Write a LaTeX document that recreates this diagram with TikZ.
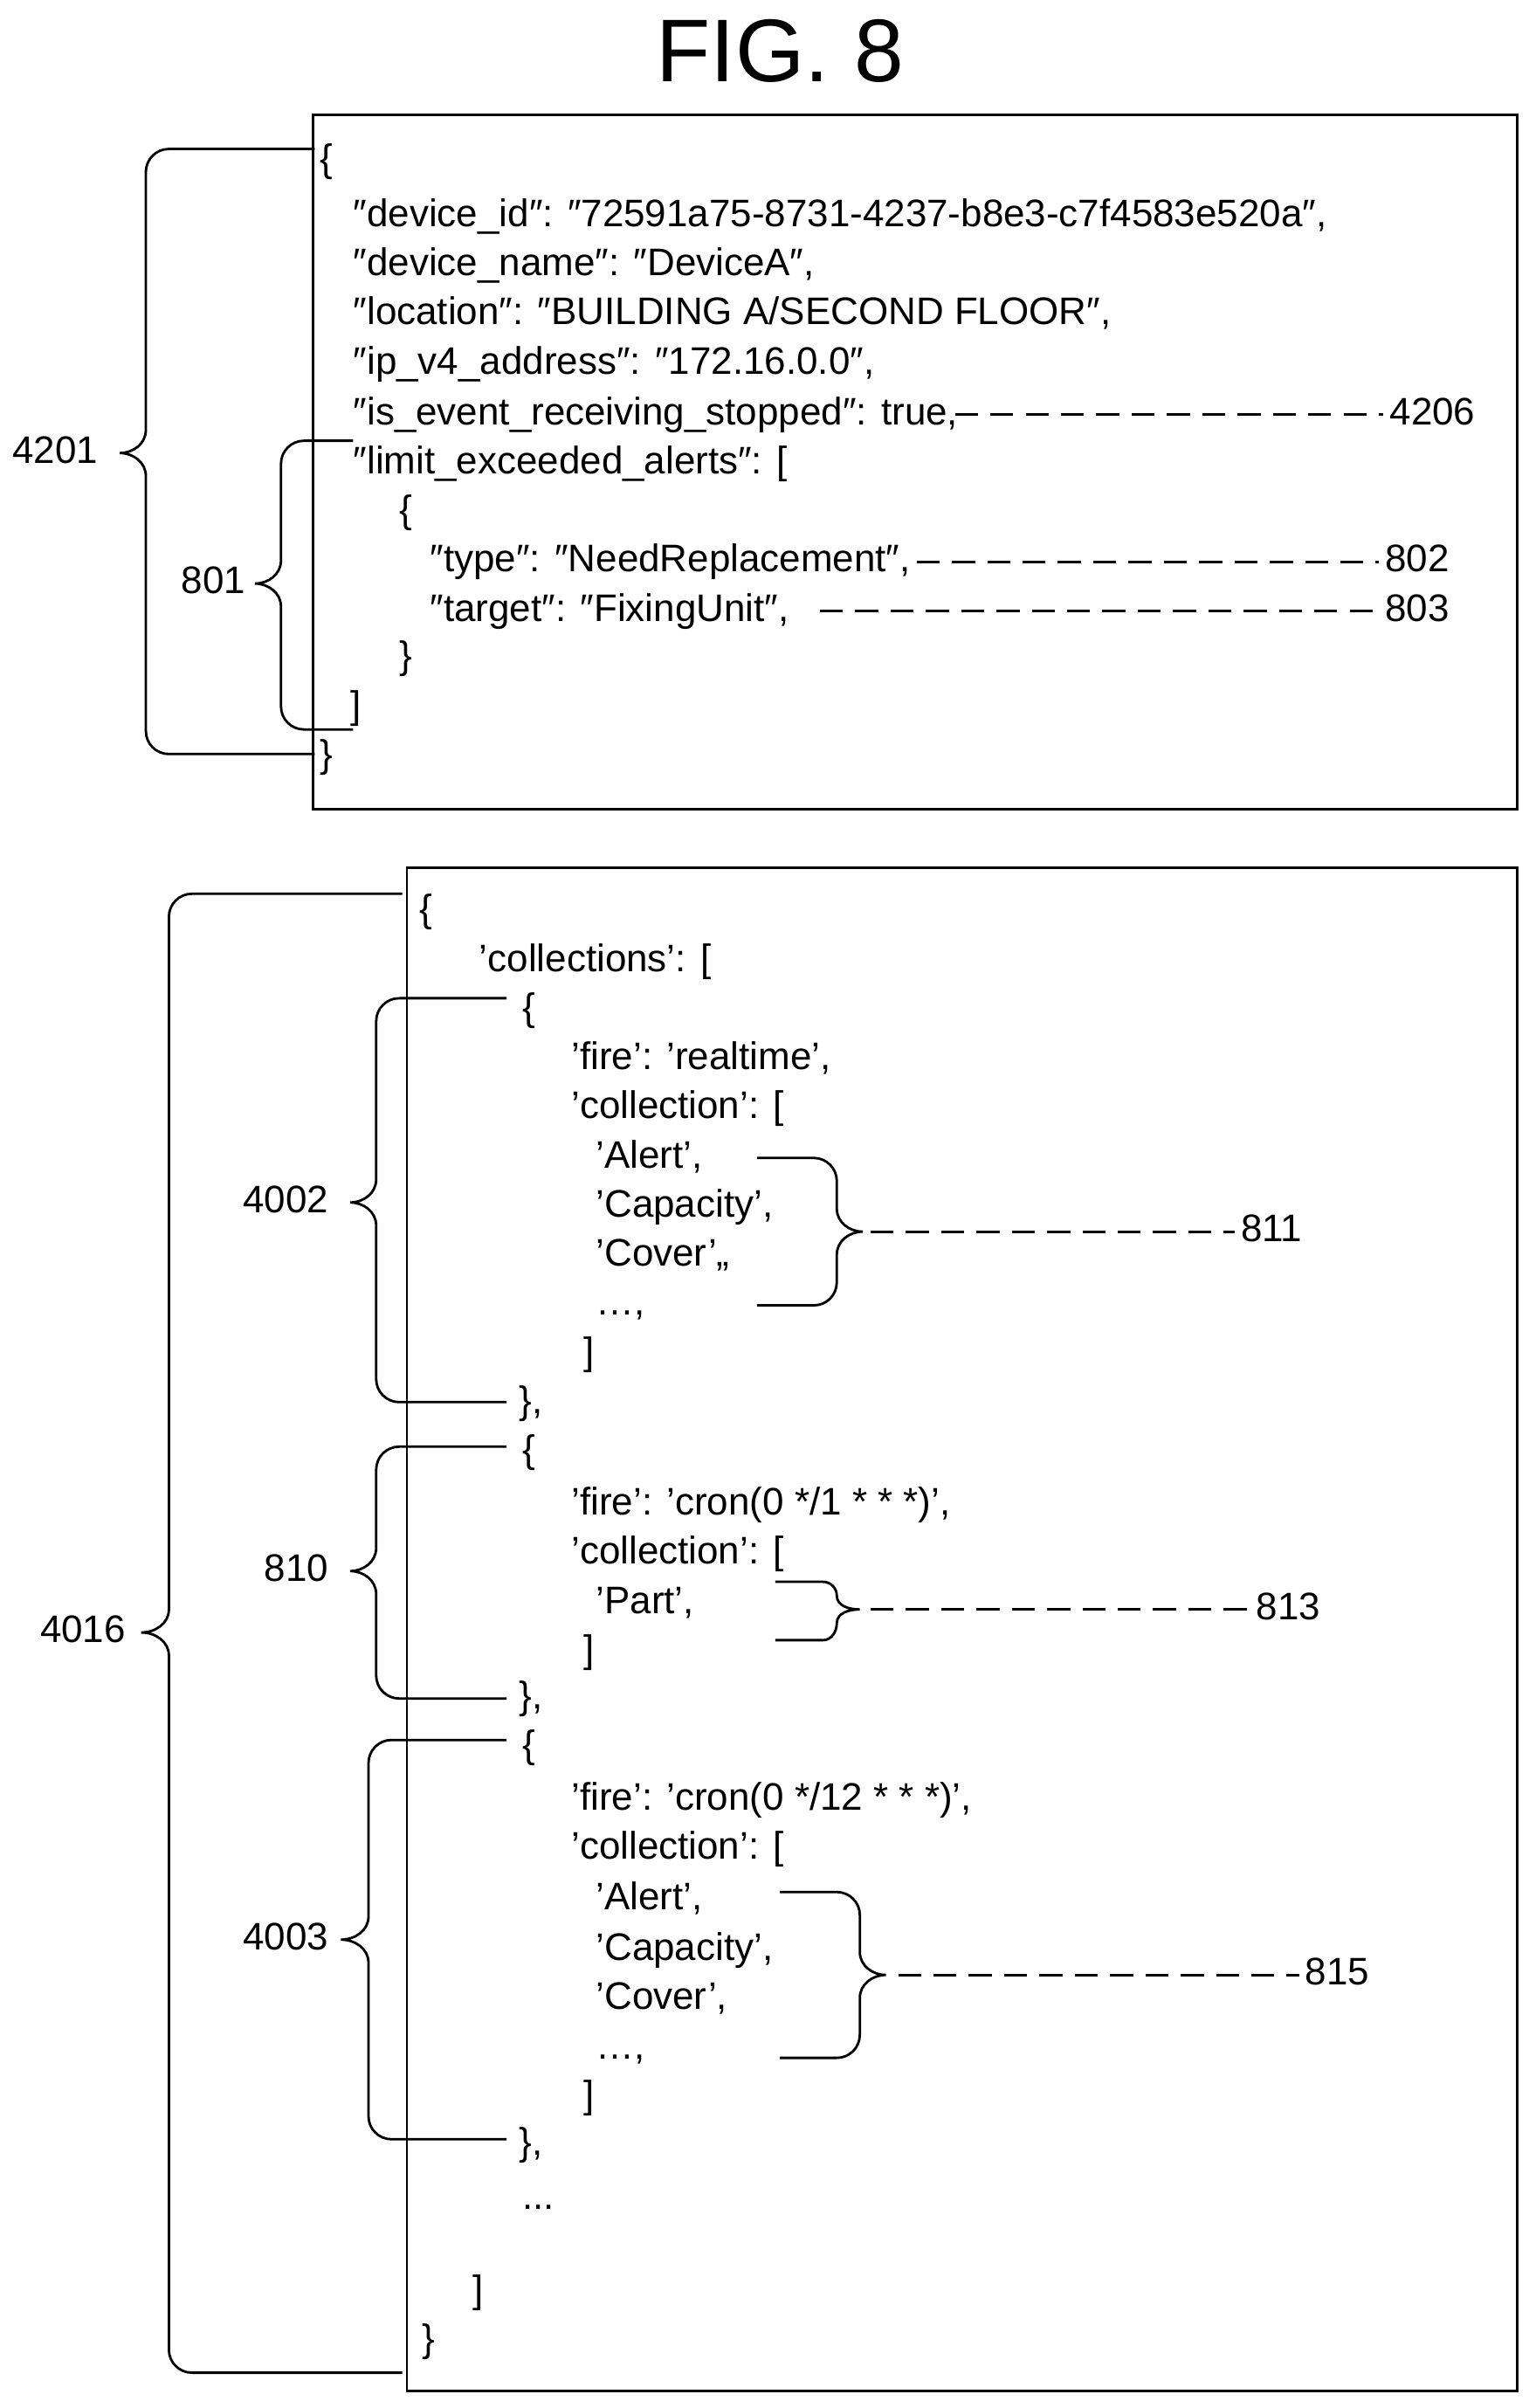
\documentclass[tikz,border=0pt]{standalone}
\usepackage{fontspec}
\setmainfont{Liberation Sans}
\begin{document}
\begin{tikzpicture}[x=1pt,y=-1pt,
  txt/.style={anchor=west,inner sep=0pt,font=\fontsize{25}{27}\selectfont,text height=18pt,text depth=5pt},
  lbl/.style={txt},
  ln/.style={line width=1.6pt},
  dsh/.style={line width=1.6pt,dash pattern=on 15pt off 8pt}]
\useasboundingbox (0,0) rectangle (1000,1568);
\newcommand\myLB[6]{% tickx, barx, top, mid, bot, tipx
  \draw[ln] (#1,#3) -- (#2+15,#3) to[out=180,in=90] (#2,#3+15) -- (#2,#4-15) to[out=-90,in=0] (#6,#4) to[out=0,in=90] (#2,#4+15) -- (#2,#5-15) to[out=-90,in=180] (#2+15,#5) -- (#1,#5);}
\newcommand\myRB[6]{% tickx, barx, top, mid, bot, tipx
  \draw[ln] (#1,#3) -- (#2-15,#3) to[out=0,in=90] (#2,#3+15) -- (#2,#4-15) to[out=-90,in=180] (#6,#4) to[out=180,in=90] (#2,#4+15) -- (#2,#5-15) to[out=-90,in=0] (#2-15,#5) -- (#1,#5);}
\node[inner sep=0pt,font=\fontsize{58}{60}\selectfont] (title) at (508,33) {FIG.\ 8};
% top box
\draw[ln] (204,75) rectangle (988,527);
\node[txt] (a1) at (208,105) {\{};
\node[txt] (a2) at (230,141) {″device\_id″: ″72591a75-8731-4237-b8e3-c7f4583e520a″,};
\node[txt] (a3) at (230,173) {″device\_name″: ″DeviceA″,};
\node[txt] (a4) at (230,205) {″location″: ″BUILDING A/SECOND FLOOR″,};
\node[txt] (a5) at (230,237) {″ip\_v4\_address″: ″172.16.0.0″,};
\node[txt] (a6) at (230,270) {″is\_event\_receiving\_stopped″: true,};
\node[txt] (a7) at (230,302) {″limit\_exceeded\_alerts″: [};
\node[txt] (a8) at (260,334) {\{};
\node[txt] (a9) at (280,366) {″type″: ″NeedReplacement″,};
\node[txt] (a10) at (280,398) {″target″: ″FixingUnit″,};
\node[txt] (a11) at (260,429) {\}};
\node[txt] (a12) at (228,461) {]};
\node[txt] (a13) at (208,493) {\}};
\node[lbl] (l4206) at (905,270) {4206};
\node[lbl] (l802) at (902,366) {802};
\node[lbl] (l803) at (902,398) {803};
\node[lbl] (l4201) at (8,295) {4201};
\node[lbl] (l801) at (118,380) {801};
\coordinate (c4206) at (622,270);
\coordinate (c802) at (597,366);
\coordinate (c803) at (534,398);
\draw[dsh] (c4206) -- ([xshift=-4pt]l4206.west);
\draw[dsh] (c802) -- ([xshift=-4pt]l802.west);
\draw[dsh] (c803) -- ([xshift=-4pt]l803.west);
\myLB{205}{95}{97}{295}{491}{78}
\myLB{230}{183}{287}{380}{475}{166}
% bottom box
\draw[ln] (265,565) rectangle (988,1557);
\node[txt] (b1) at (273,594) {\{};
\node[txt] (b2) at (312,626) {'collections': [};
\node[txt] (b3) at (340,658) {\{};
\node[txt] (b4) at (372,690) {'fire': 'realtime',};
\node[txt] (b5) at (372,722) {'collection': [};
\node[txt] (b6) at (388,754) {'Alert',};
\node[txt] (b7) at (388,786) {'Capacity',};
\node[txt] (b8) at (388,818) {'Cover',,};
\node[txt] (b9) at (388,850) {…,};
\node[txt] (b10) at (380,882) {]};
\node[txt] (b11) at (338,914) {\},};
\node[txt] (b12) at (340,946) {\{};
\node[txt] (b13) at (372,980) {'fire': 'cron(0 */1 * * *)',};
\node[txt] (b14) at (372,1012) {'collection': [};
\node[txt] (b15) at (388,1044) {'Part',};
\node[txt] (b16) at (380,1076) {]};
\node[txt] (b17) at (338,1106) {\},};
\node[txt] (b18) at (340,1138) {\{};
\node[txt] (b19) at (372,1172) {'fire': 'cron(0 */12 * * *)',};
\node[txt] (b20) at (372,1204) {'collection': [};
\node[txt] (b21) at (388,1237) {'Alert',};
\node[txt] (b22) at (388,1270) {'Capacity',};
\node[txt] (b23) at (388,1302) {'Cover',};
\node[txt] (b24) at (388,1334) {…,};
\node[txt] (b25) at (380,1366) {]};
\node[txt] (b26) at (338,1397) {\},};
\node[txt] (b27) at (340,1432) {...};
\node[txt] (b28) at (308,1493) {]};
\node[txt] (b29) at (275,1525) {\}};
\node[lbl] (l4016) at (26,1063) {4016};
\node[lbl] (l4002) at (158,783) {4002};
\node[lbl] (l810) at (172,1023) {810};
\node[lbl] (l4003) at (158,1263) {4003};
\node[lbl] (l811) at (808,802) {811};
\node[lbl] (l813) at (818,1048) {813};
\node[lbl] (l815) at (850,1286) {815};
\myLB{262}{110}{582}{1063}{1545}{92}
\myLB{330}{245}{650}{783}{913}{228}
\myLB{330}{245}{942}{1023}{1106}{228}
\myLB{330}{240}{1133}{1263}{1393}{222}
\myRB{493}{545}{754}{802}{850}{562}
\draw[ln] (505,1030) -- (536,1030) to[out=0,in=90] (545,1039) to[out=-90,in=180] (560,1048) to[out=180,in=90] (545,1057) to[out=-90,in=0] (536,1068) -- (505,1068);
\myRB{508}{560}{1232}{1286}{1340}{577}
\coordinate (c811) at (567,802);
\coordinate (c813) at (567,1048);
\coordinate (c815) at (585,1286);
\draw[dsh] (c811) -- ([xshift=-4pt]l811.west);
\draw[dsh] (c813) -- ([xshift=-4pt]l813.west);
\draw[dsh] (c815) -- ([xshift=-4pt]l815.west);
\end{tikzpicture}
\end{document}
